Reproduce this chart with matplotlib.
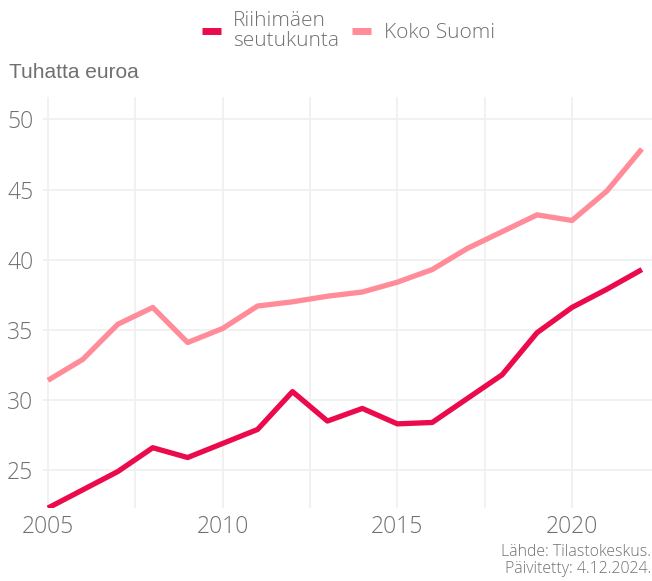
import matplotlib
matplotlib.use("Agg")
import matplotlib.pyplot as plt
from matplotlib.ticker import MultipleLocator

years = list(range(2005, 2023))
riihimaki = [22.3, 23.6, 24.9, 26.6, 25.9, 26.9, 27.9, 30.6, 28.5, 29.4, 28.3, 28.4,
             30.1, 31.8, 34.8, 36.6, 37.9, 39.3]
koko_suomi = [31.4, 32.9, 35.4, 36.6, 34.1, 35.1, 36.7, 37.0, 37.4, 37.7, 38.4, 39.3,
              40.8, 42.0, 43.2, 42.8, 44.9, 47.9]
series_names = ["Riihimäen\nseutukunta", "Koko Suomi"]
y_ticks = [25, 30, 35, 40, 45, 50]
x_ticks = [2005, 2010, 2015, 2020]

RED = "#EB0A4B"
PINK = "#FF8C98"
TEXT = "#707070"
GRID = "#EFEFEF"

fig = plt.figure(figsize=(6.52, 5.81), dpi=100)
ax = fig.add_axes([0.066, 0.1256, 0.934, 0.7074])

ax.plot(years, riihimaki, color=RED, lw=3.8, solid_capstyle="butt", label=series_names[0], zorder=3)
ax.plot(years, koko_suomi, color=PINK, lw=3.8, solid_capstyle="butt", label=series_names[1], zorder=3)

ax.set_xlim(2004.86, 2022.29)
ax.set_ylim(22.3, 51.6)
ax.set_yticks(y_ticks)
ax.set_xticks(x_ticks)
ax.xaxis.set_minor_locator(MultipleLocator(2.5))
ax.grid(True, which="both", axis="x", color=GRID, lw=1.2, zorder=0)
ax.grid(True, which="major", axis="y", color=GRID, lw=1.2, zorder=0)
for s in ax.spines.values():
    s.set_visible(False)
ax.tick_params(which="both", length=0)
ax.tick_params(axis="y", pad=7)
ax.tick_params(axis="x", pad=5)
for lab in ax.get_xticklabels() + ax.get_yticklabels():
    lab.set_fontfamily("Open Sans")
    lab.set_fontweight("light")
    lab.set_fontsize(16.5)
    lab.set_color(TEXT)

fig.text(9 / 652, 1 - 72 / 581, "Tuhatta euroa", family="Liberation Sans",
         fontsize=15, color=TEXT, va="center", ha="left")

leg = fig.legend(loc="center", bbox_to_anchor=(0.5345, 1 - 31 / 581), ncol=2, frameon=False,
                 handlelength=0.91, handletextpad=0.58, columnspacing=0.63,
                 prop={"family": "Open Sans", "weight": "light", "size": 15})
for t in leg.get_texts():
    t.set_color(TEXT)
    t.set_linespacing(0.95)
for h in leg.get_lines():
    h.set_linewidth(5)

fig.text(1 - 1 / 652, 1 - 552 / 581, "Lähde: Tilastokeskus.", family="Open Sans",
         weight="light", fontsize=11.4, color=TEXT, ha="right", va="center")
fig.text(1 - 1 / 652, 1 - 569 / 581, "Päivitetty: 4.12.2024.", family="Open Sans",
         weight="light", fontsize=11.4, color=TEXT, ha="right", va="center")

fig.savefig("out.png", dpi=100)
